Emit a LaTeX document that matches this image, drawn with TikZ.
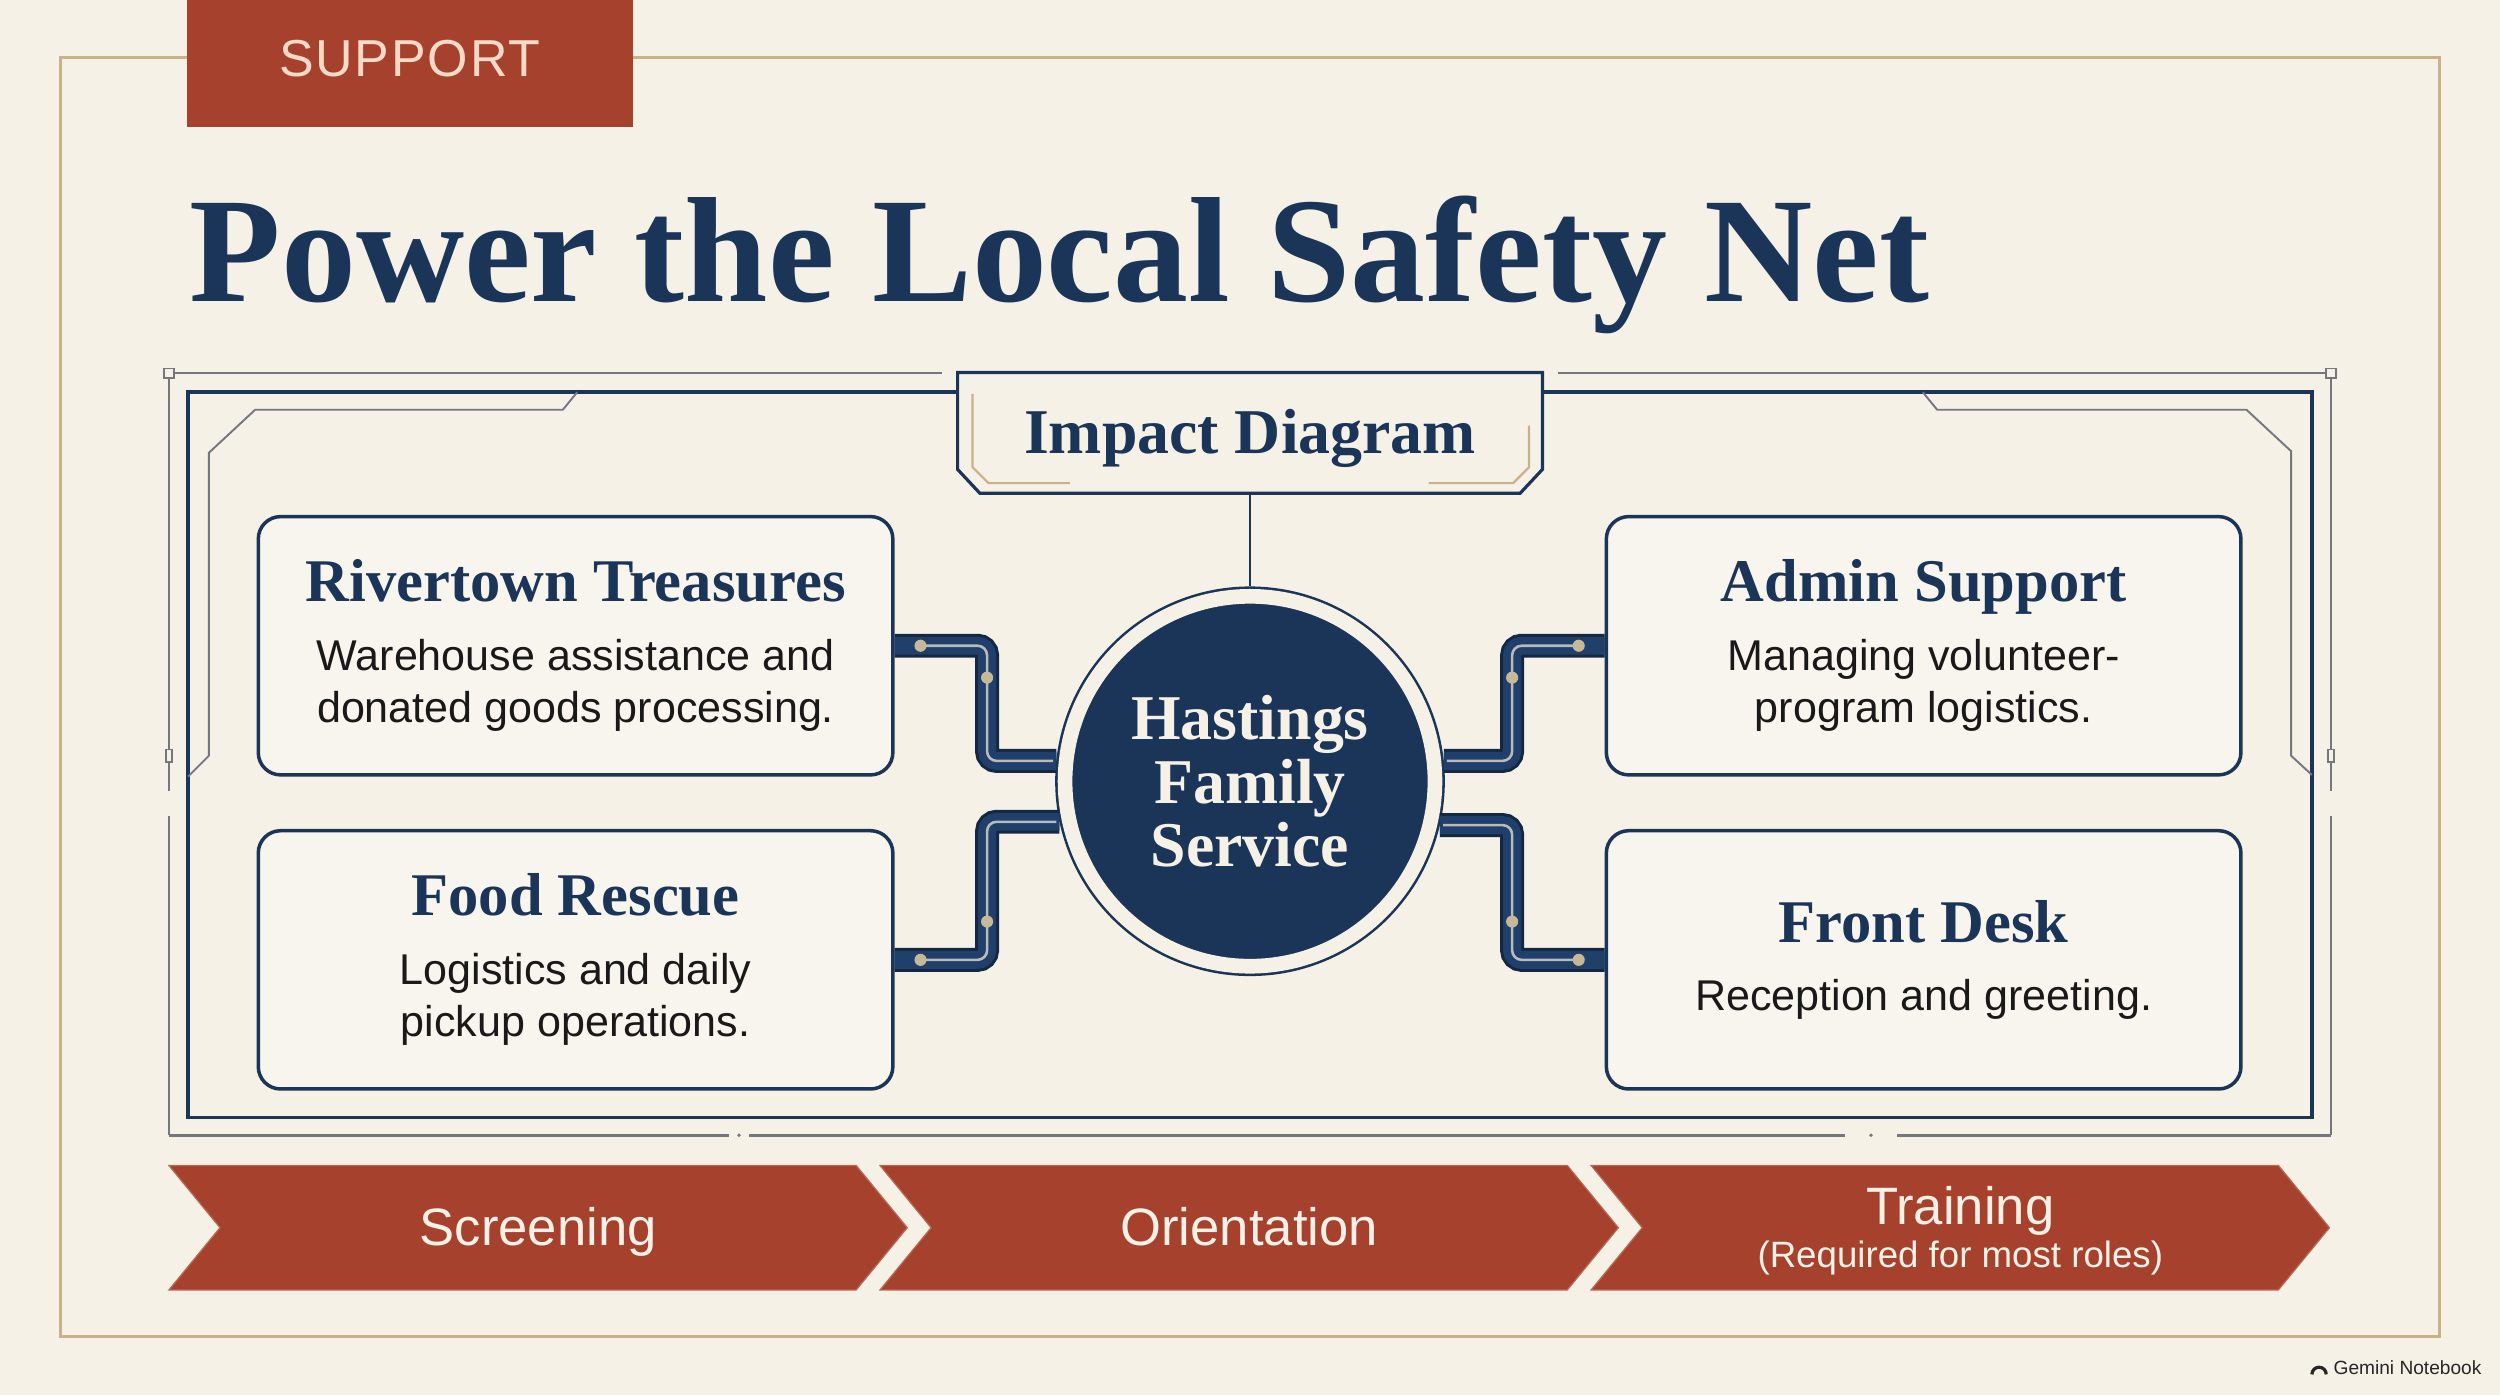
\documentclass[tikz,border=0pt]{standalone}
\usepackage{fontspec}
\setmainfont{Liberation Serif}
\setsansfont{Liberation Sans}
\usepackage{tikz}
\usetikzlibrary{calc, positioning}
\definecolor{paper}{HTML}{F5F1E7}
\definecolor{cardbg}{HTML}{F8F5EE}
\definecolor{navy}{HTML}{1B3558}
\definecolor{pipeblue}{HTML}{203F6A}
\definecolor{frametan}{HTML}{C9B28A}
\definecolor{brick}{HTML}{A6412D}
\definecolor{wire}{HTML}{74777E}
\definecolor{solder}{HTML}{C7B898}
\definecolor{peach}{HTML}{F6DAC6}
\newcommand{\cardhead}{\rmfamily\bfseries\fontsize{19}{20}\selectfont\color{navy}}
\newcommand{\cardtext}{\sffamily\fontsize{13.5}{16.5}\selectfont}

\begin{document}
\begin{tikzpicture}[x=0.5pt, y=-0.5pt,
  card/.style={draw=navy, line width=1.1pt, fill=cardbg, rounded corners=7pt,
    minimum width=199pt, minimum height=81pt, inner sep=0pt, align=center,
    font=\cardtext, text=black!90},
  hub/.style={circle, draw=navy, line width=0.8pt, double=paper, double distance=4.6pt,
    fill=navy, minimum size=116pt, inner sep=0pt, outer sep=3.1pt, align=center,
    text=paper, font=\bfseries\fontsize{20}{20}\selectfont},
  pipe/.style={navy!75!black, line width=7.5pt, rounded corners=3pt},
  pipecore/.style={pipeblue, line width=5.6pt, rounded corners=3pt},
  trace/.style={wire!45!paper, line width=0.8pt, rounded corners=3pt},
  steplabel/.style={text=paper, font=\sffamily\fontsize{16.5}{16.5}\selectfont,
    text height=11.8pt, text depth=0pt, inner sep=0pt}]
  % paper
  \fill[paper] (0,0) rectangle (1568,875);
  \useasboundingbox (0,0) rectangle (1568,875);
  \draw[frametan, line width=1pt] (38,36) rectangle (1530,838);

  % tab and title
  \fill[brick] (117,0) rectangle (397,79.5);
  \node[text=peach, inner sep=0pt, text height=11.7pt, text depth=0pt,
        font=\sffamily\fontsize{16.3}{16.3}\selectfont\addfontfeature{LetterSpace=3.5}]
        (tab) at (257,36.3) {SUPPORT};
  \node[anchor=base west, inner sep=0pt, text=navy,
        font=\bfseries\fontsize{47}{47}\selectfont]
        (title) at (118.5,189.2) {Power the Local Safety Net};

  % circuit frame
  \draw[wire, line width=0.75pt] (106,234) -- (591,234) (977,234) -- (1462,234);
  \draw[wire, line width=0.75pt] (106,234) -- (106,496) (106,512) -- (106,712)
        (1462,234) -- (1462,496) (1462,512) -- (1462,712);
  \draw[wire, line width=1pt] (106,712) -- (457,712) (470,712) -- (1157,712)
        (1190,712) -- (1462,712);
  \foreach \x in {106,1462}{
    \draw[wire, fill=paper, line width=0.5pt] (\x-3,231) rectangle (\x+3,237);
    \draw[wire, fill=paper, line width=0.5pt] (\x-2,470) rectangle (\x+2,478);
  }
  \fill[wire] (463.5,712) circle (1.2) (1173.5,712) circle (1.2);
  \draw[navy, line width=1.1pt] (118,246) rectangle (1450,701);
  \draw[wire, line width=0.6pt] (362,246) -- (353,257) -- (160,257) -- (131,284)
        -- (131,474) -- (118,487);
  \draw[wire, line width=0.6pt] (1206,246) -- (1215,257) -- (1409,257) -- (1437,283)
        -- (1437,474) -- (1450,486);

  % impact diagram box
  \node[fill=paper, text=navy, minimum width=183pt, minimum height=37.5pt, inner sep=0pt,
        text height=13.2pt, text depth=0pt, font=\bfseries\fontsize{20}{20}\selectfont]
        (imp) at (784,271.5) {Impact Diagram};
  \draw[navy, line width=1pt] (imp.north west) -- (imp.north east)
        -- ($(imp.south east)+(0,-15)$) -- ($(imp.south east)+(-14,0)$)
        -- ($(imp.south west)+(14,0)$) -- ($(imp.south west)+(0,-15)$) -- cycle;
  \draw[frametan, line width=0.7pt] (610,247) -- (610,293) -- (620,303) -- (671,303);
  \draw[frametan, line width=0.7pt] (959,267) -- (959,293) -- (949,303) -- (896,303);

  % hub and cards
  \node[hub] (hub) at (784,490) {Hastings\\Family\\Service};
  \draw[navy, line width=0.8pt] (imp.south) -- (hub.north);

  \node[card] (rt) at (361,405)
    {{\cardhead Rivertown Treasures}\\[5pt]Warehouse assistance and\\donated goods processing.};
  \node[card] (fr) at (361,602)
    {{\cardhead Food Rescue}\\[5pt]Logistics and daily\\pickup operations.};
  \node[card] (ad) at (1206.5,405)
    {{\cardhead Admin Support}\\[5pt]Managing volunteer-\\program logistics.};
  \node[card] (fd) at (1206.5,602)
    {{\cardhead Front Desk}\\[5pt]Reception and greeting.};

  % pipes
  \foreach \card/\side/\dx/\dy/\ang in {rt/east/58/20/174, fr/east/58/-24/192.7,
                                        ad/west/-58/20/6, fd/west/-58/-24/347.3}{
    \draw[pipe] (\card.\side) -- ++(\dx,0) |- (hub.\ang);
    \draw[pipecore] (\card.\side) -- ++(\dx,0) |- (hub.\ang);
    \draw[trace, shorten <=8pt, shorten >=1pt] (\card.\side) -- ++(\dx,0) |- (hub.\ang);
    \fill[solder] ($(\card.\side)+(\dx*0.28,0)$) circle (3.8);
    \fill[solder] ($(\card.\side)+(\dx,\dy)$) circle (3.8);
  }

  % steps
  \foreach \x in {106,552,998}{
    \fill[brick, draw=brick!75!peach, line width=0.4pt] (\x,731) -- (\x+431,731)
         -- (\x+463,770) -- (\x+431,809) -- (\x,809) -- (\x+32,770) -- cycle;
  }
  \node[steplabel] (scr) at (337.5,769.5) {Screening};
  \node[steplabel] (ori) at (783.5,769.5) {Orientation};
  \node[steplabel] (trn) at (1229.5,756) {Training};
  \node[steplabel, font=\sffamily\fontsize{11.5}{11.5}\selectfont, text height=8.2pt]
        (req) at (1229.5,787) {(Required for most roles)};

  % watermark
  \node[font=\sffamily\fontsize{6}{6}\selectfont, text=black!85] (mark) at (1510,858) {Gemini Notebook};
  \draw[black!85, line width=1pt] (1450,862) arc[start angle=180, end angle=360, radius=4.5];
\end{tikzpicture}
\end{document}
